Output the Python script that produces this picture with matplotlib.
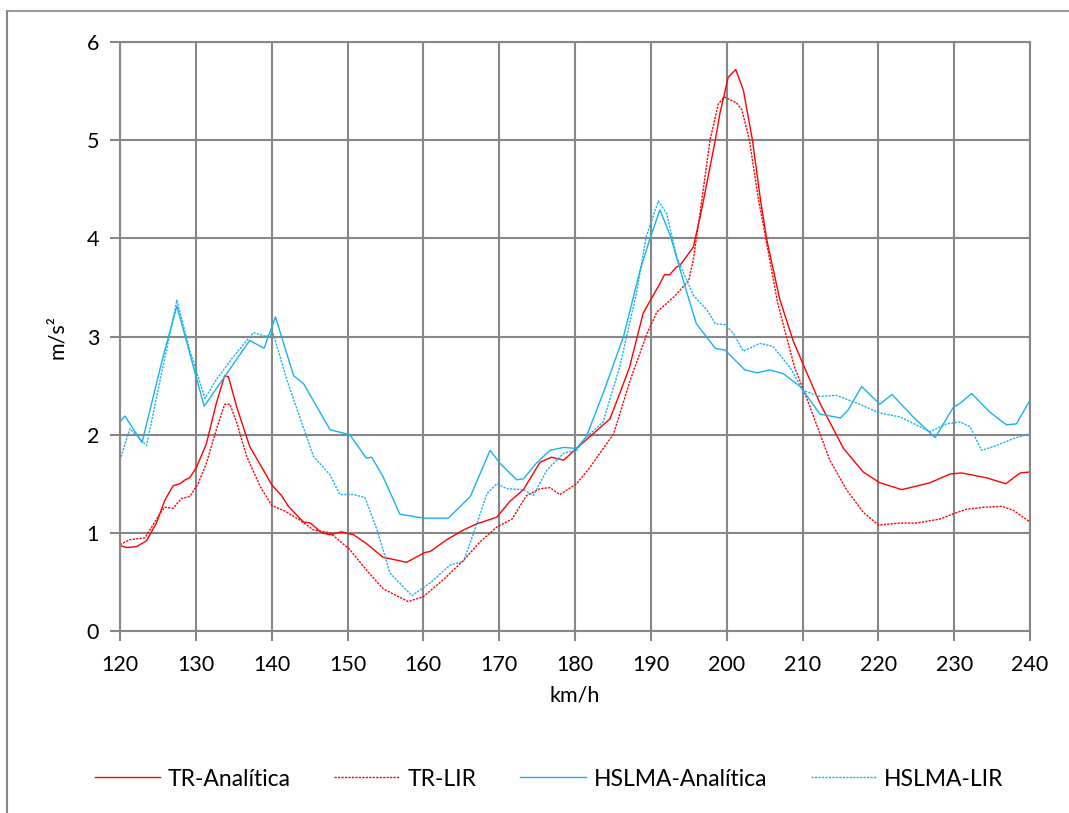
import matplotlib
matplotlib.use("Agg")
import matplotlib.pyplot as plt
from matplotlib.lines import Line2D

# -----------------------------
# Data
# -----------------------------
tr_an_x = [120, 120.9, 122.2, 123.5, 124.8, 125.9, 127.0, 127.9, 128.6, 129.2, 130.1, 131.4,
           132.7, 133.8, 134.3, 135.4, 137.1, 138.9, 140.0, 141.3, 142.2, 144.2, 145.1, 146.6,
           147.7, 149.2, 150.8, 152.5, 154.7, 156.0, 157.8, 160.2, 160.9, 163.1, 165.3, 167.0,
           169.7, 171.4, 173.2, 175.4, 176.9, 178.5, 180.2, 182.4, 184.6, 185.9, 187.2, 189.0,
           191.2, 191.8, 192.5, 193.4, 193.8, 195.6, 196.5, 196.9, 198.5, 199.1, 200.2, 201.2,
           202.2, 203.4, 204.5, 205.3, 207.0, 208.8, 209.9, 212.3, 215.4, 218.0, 220.2, 223.1,
           226.8, 229.5, 231.0, 234.3, 236.8, 238.7, 240]
tr_an_y = [0.87, 0.85, 0.86, 0.92, 1.10, 1.33, 1.48, 1.50, 1.54, 1.56, 1.67, 1.91,
           2.32, 2.60, 2.59, 2.28, 1.88, 1.64, 1.49, 1.38, 1.27, 1.11, 1.10, 1.00,
           0.98, 1.01, 0.98, 0.89, 0.75, 0.73, 0.70, 0.80, 0.81, 0.93, 1.03, 1.09,
           1.16, 1.32, 1.44, 1.72, 1.77, 1.74, 1.86, 2.01, 2.16, 2.42, 2.69, 3.24,
           3.54, 3.63, 3.63, 3.71, 3.72, 3.91, 4.22, 4.37, 5.00, 5.27, 5.64, 5.72,
           5.51, 5.00, 4.37, 3.98, 3.38, 2.95, 2.75, 2.32, 1.86, 1.62, 1.51, 1.44,
           1.51, 1.60, 1.61, 1.56, 1.50, 1.61, 1.62]

tr_lir_x = [120, 121.3, 123.3, 125.3, 125.9, 127.0, 128.1, 129.2, 130.3, 131.4, 132.7, 133.8,
            134.5, 135.4, 136.7, 138.5, 140.0, 141.8, 143.7, 145.5, 147.7, 150.3, 152.5, 154.7,
            158.0, 160.0, 162.6, 165.3, 167.5, 169.7, 171.7, 173.6, 175.4, 176.7, 178.0, 180.2,
            182.0, 185.1, 187.3, 189.5, 190.8, 193.0, 195.0, 195.6, 196.6, 197.8, 198.9, 199.7,
            201.3, 202.0, 203.0, 204.2, 204.8, 206.7, 208.9, 211.0, 213.6, 215.8, 218.0, 220.0,
            222.9, 225.0, 228.1, 230.1, 231.6, 233.8, 236.3, 237.8, 240]
tr_lir_y = [0.88, 0.93, 0.95, 1.20, 1.26, 1.25, 1.35, 1.37, 1.50, 1.71, 2.05, 2.31,
            2.31, 2.12, 1.78, 1.47, 1.28, 1.22, 1.13, 1.03, 1.00, 0.83, 0.62, 0.43,
            0.30, 0.35, 0.52, 0.72, 0.91, 1.06, 1.14, 1.38, 1.45, 1.46, 1.39, 1.50,
            1.67, 2.01, 2.56, 3.03, 3.25, 3.40, 3.57, 3.78, 4.32, 5.00, 5.37, 5.44,
            5.38, 5.31, 5.00, 4.39, 4.15, 3.35, 2.70, 2.28, 1.74, 1.44, 1.21, 1.08,
            1.10, 1.10, 1.14, 1.20, 1.24, 1.26, 1.27, 1.23, 1.11]

hs_an_x = [120, 120.65, 122.9, 125.7, 127.5, 131.1, 137.1, 139.0, 140.5, 142.9, 144.2, 147.7,
           150.3, 152.5, 153.2, 154.7, 156.9, 160.0, 163.3, 166.2, 168.8, 170.1, 172.3, 173.2,
           174.9, 176.7, 178.5, 180.2, 181.5, 183.7, 186.4, 188.6, 189.9, 191.2, 192.6, 194.5,
           196.0, 198.5, 199.8, 202.4, 204.0, 205.7, 207.5, 209.7, 212.3, 215.0, 216.0, 217.8,
           220.2, 221.8, 224.6, 227.5, 229.9, 230.8, 232.3, 234.7, 236.9, 238.2, 240]
hs_an_y = [2.13, 2.19, 1.92, 2.80, 3.31, 2.29, 2.96, 2.88, 3.20, 2.60, 2.52, 2.05,
           2.00, 1.76, 1.77, 1.57, 1.19, 1.15, 1.15, 1.37, 1.84, 1.71, 1.54, 1.55,
           1.71, 1.84, 1.87, 1.86, 1.98, 2.42, 3.00, 3.68, 4.00, 4.29, 4.02, 3.51,
           3.13, 2.88, 2.86, 2.66, 2.63, 2.66, 2.62, 2.49, 2.21, 2.17, 2.25, 2.49,
           2.31, 2.41, 2.18, 1.97, 2.28, 2.32, 2.42, 2.23, 2.10, 2.11, 2.35]

hs_lir_x = [120, 121.3, 123.5, 127.5, 129.2, 131.2, 132.7, 134.9, 137.6, 139.3, 140.2, 142.0,
            145.5, 147.7, 149.0, 150.8, 152.3, 153.9, 155.6, 158.5, 160.9, 163.5, 165.3, 166.6,
            168.4, 169.7, 171.0, 173.2, 174.5, 176.3, 178.5, 180.2, 181.3, 183.7, 185.9, 188.1,
            189.4, 191.0, 192.1, 193.4, 195.6, 197.4, 198.5, 199.8, 200.9, 202.2, 204.4, 206.1,
            208.3, 210.1, 212.3, 214.5, 217.2, 220.2, 222.9, 225.5, 226.8, 229.0, 230.8, 232.1,
            233.6, 235.6, 237.8, 240]
hs_lir_y = [1.74, 2.06, 1.89, 3.37, 2.86, 2.37, 2.56, 2.79, 3.04, 3.00, 3.03, 2.56,
            1.78, 1.59, 1.39, 1.39, 1.36, 1.03, 0.59, 0.36, 0.49, 0.67, 0.71, 0.99,
            1.40, 1.50, 1.45, 1.44, 1.38, 1.64, 1.81, 1.84, 1.96, 2.13, 2.69, 3.44,
            4.02, 4.38, 4.25, 3.81, 3.42, 3.27, 3.13, 3.12, 3.03, 2.85, 2.93, 2.90,
            2.69, 2.45, 2.39, 2.40, 2.32, 2.22, 2.18, 2.08, 2.03, 2.11, 2.13, 2.08,
            1.84, 1.89, 1.96, 2.01]

series_labels = ["TR-Analítica", "TR-LIR", "HSLMA-Analítica", "HSLMA-LIR"]
x_ticks = [120, 130, 140, 150, 160, 170, 180, 190, 200, 210, 220, 230, 240]
y_ticks = [0, 1, 2, 3, 4, 5, 6]

RED = "#FF0000"
BLUE = "#19B2EC"
GRID = "#878787"
DOTS = (0, (1.6, 0.9))

plt.rcParams["font.family"] = ["Lato", "DejaVu Sans"]

W, H = 1069, 813
fig = plt.figure(figsize=(W / 100, H / 100), dpi=100)
ax = fig.add_axes([120 / W, 1 - 631 / H, 910 / W, 589 / H])

ax.plot(tr_an_x, tr_an_y, color=RED, lw=1.0)
ax.plot(tr_lir_x, tr_lir_y, color=RED, lw=1.0, linestyle=DOTS)
ax.plot(hs_an_x, hs_an_y, color=BLUE, lw=1.0)
ax.plot(hs_lir_x, hs_lir_y, color=BLUE, lw=1.0, linestyle=DOTS)

ax.set_xlim(120, 240)
ax.set_ylim(0, 6)
ax.set_xticks(x_ticks)
ax.set_yticks(y_ticks)
ax.grid(True, color=GRID, lw=1.5)
ax.set_axisbelow(True)
for s in ax.spines.values():
    s.set_color(GRID)
    s.set_linewidth(1.5)
ax.tick_params(axis="both", direction="out", length=7, width=1.5, color=GRID,
               labelsize=15.5, labelcolor="black")
ax.tick_params(axis="x", pad=10)
ax.tick_params(axis="y", pad=8)

ax.set_xlabel("km/h", fontsize=15.5, labelpad=8)
ax.set_ylabel("m/s²", fontsize=15.5, labelpad=14)

handles = [
    Line2D([], [], color=RED, lw=1.0),
    Line2D([], [], color=RED, lw=1.0, linestyle=DOTS),
    Line2D([], [], color=BLUE, lw=1.0),
    Line2D([], [], color=BLUE, lw=1.0, linestyle=DOTS),
]
fig.legend(handles, series_labels, loc="center", bbox_to_anchor=(549 / W, 1 - 779 / H),
           ncol=4, frameon=False, fontsize=16.5, handlelength=2.85, handletextpad=0.35,
           columnspacing=1.9)

# outer chart-area border (clipped on right/bottom as in the original)
fig.add_artist(Line2D([7 / W, 7 / W], [0, 1 - 11 / H], transform=fig.transFigure,
                      color=GRID, lw=1.5))
fig.add_artist(Line2D([7 / W, 1], [1 - 11 / H, 1 - 11 / H], transform=fig.transFigure,
                      color=GRID, lw=1.2))

fig.savefig("out.png", dpi=100)
